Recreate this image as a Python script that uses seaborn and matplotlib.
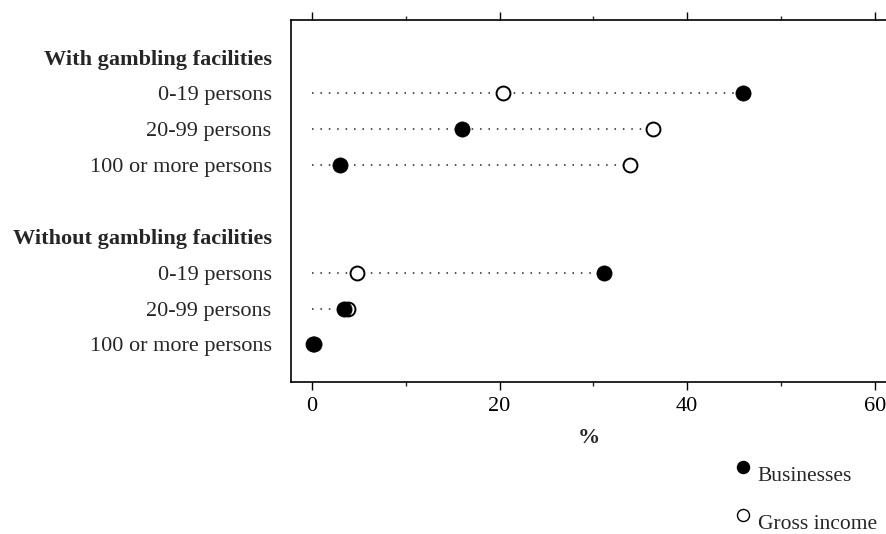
import matplotlib
matplotlib.use("Agg")
import matplotlib.pyplot as plt
import seaborn as sns
import pandas as pd
import numpy as np
from matplotlib.ticker import MultipleLocator

# ---- data ----
row_labels = ["With gambling facilities", "0-19 persons", "20-99 persons", "100 or more persons", "",
              "Without gambling facilities", "0-19 persons", "20-99 persons", "100 or more persons"]
header_rows = [0, 5]
data_rows = [1, 2, 3, 6, 7, 8]
businesses = [45.9, 16.0, 3.0, 31.1, 3.4, 0.2]
gross_income = [20.4, 36.3, 33.9, 4.8, 3.8, 0.1]
x_ticks = [0, 20, 40, 60]
x_label = "%"
legend_labels = ["Businesses", "Gross income"]

df = pd.DataFrame({"row": data_rows, "Businesses": businesses, "Gross income": gross_income})
df["end"] = df[["Businesses", "Gross income"]].max(axis=1)

sns.set_style("white")
plt.rcParams["font.family"] = ["Liberation Serif", "DejaVu Serif"]
plt.rcParams["font.size"] = 16

fig = plt.figure(figsize=(8.87, 5.34), dpi=100)
ax = fig.add_axes([291 / 887, 1 - 382 / 534, 1 - 291 / 887, (382 - 20) / 534])

# dotted guide lines
ax.hlines(df["row"], 0, df["end"], colors="#222222", linestyles=(0, (1, 4.5)), linewidth=1.1, zorder=1)

sns.scatterplot(data=df, x="Gross income", y="row", ax=ax, s=100, marker="o",
                facecolor="white", edgecolor="black", linewidth=1.4, zorder=3, label="\n" + legend_labels[1])
sns.scatterplot(data=df, x="Businesses", y="row", ax=ax, s=120, marker="o",
                color="black", edgecolor="black", linewidth=0.5, zorder=4, label="\n" + legend_labels[0])

ax.set_xlim(-2.24, 61.3)
ax.set_ylim(9.05, -1.05)
ax.set_yticks(range(len(row_labels)))
ax.set_yticklabels(row_labels)
for i, t in enumerate(ax.get_yticklabels()):
    if i in header_rows:
        t.set_fontweight("bold")
ax.tick_params(axis="y", length=0, pad=14)

ax.set_xticks(x_ticks)
ax.xaxis.set_minor_locator(MultipleLocator(10))
ax.tick_params(axis="x", which="major", direction="out", length=5.5, width=1, top=True, bottom=True,
               labeltop=False, pad=5, colors="black")
ax.tick_params(axis="x", which="minor", direction="out", length=3, width=1, top=True, bottom=True)
ax.set_xlabel(x_label, fontweight="bold", labelpad=9)
ax.set_ylabel("")

for s in ["left", "top", "bottom"]:
    ax.spines[s].set_visible(True)
    ax.spines[s].set_color("black")
    ax.spines[s].set_linewidth(1.2)
ax.spines["right"].set_visible(False)

# legend
h, l = ax.get_legend_handles_labels()
order = [1, 0]
leg = ax.legend([h[i] for i in order], [l[i] for i in order], loc="upper left",
                bbox_to_anchor=(732 / 887, 1 - 445 / 534), bbox_transform=fig.transFigure,
                frameon=False, handletextpad=0.2, labelspacing=0.35, handlelength=1.0,
                borderaxespad=0, borderpad=0, fontsize=15.5)
for hd in leg.legend_handles:
    hd.set_sizes([75])
    hd.set_linewidth(1.0)

fig.savefig("out.png", dpi=100)
